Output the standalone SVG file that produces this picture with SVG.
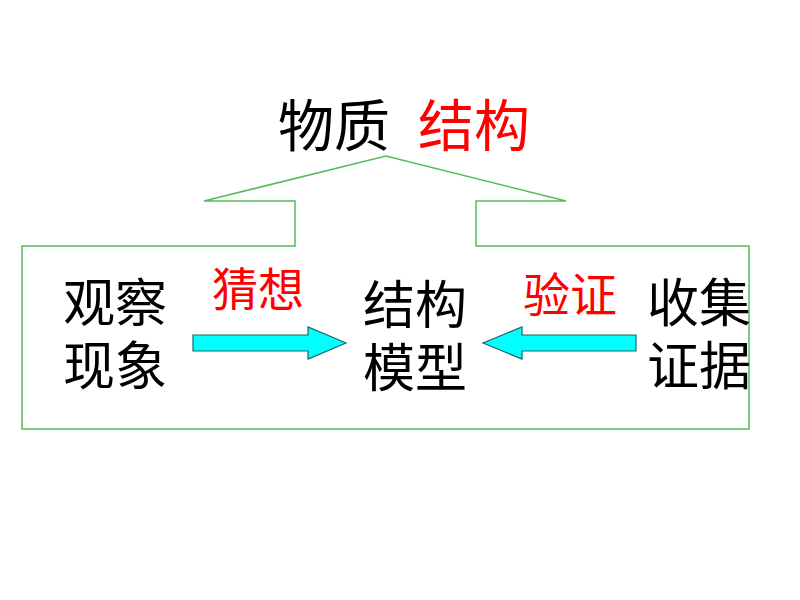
<svg xmlns="http://www.w3.org/2000/svg" width="800" height="600" viewBox="0 0 800 600">
<style>
.t{font-family:"Liberation Sans","Noto Sans CJK SC",sans-serif;}
.k{fill:#000;font-size:52px;}
.r{fill:#ff0000;}
.arr{fill:#00ffff;stroke:#1a6666;stroke-width:1.2;}
</style>
<rect width="800" height="600" fill="#fff"/>
<g id="frame">
<polygon points="22,246 295,246 295,201 204,201 386,156 566,201 476,201 476,246 749,246 749,429 22,429" fill="none" stroke="#55bb55" stroke-width="1.5"/>
</g>
<g id="title">
<text class="t" x="278" y="146" font-size="56" fill="#000">物质</text>
<text class="t r" x="418" y="146" font-size="56">结构</text>
</g>
<g id="observe">
<text class="t k"><tspan x="63" y="322">观察</tspan><tspan x="63" y="385">现象</tspan></text>
</g>
<g id="model">
<text class="t k"><tspan x="363" y="324">结构</tspan><tspan x="363" y="387">模型</tspan></text>
</g>
<g id="collect">
<text class="t k"><tspan x="647" y="322">收集</tspan><tspan x="647" y="385">证据</tspan></text>
</g>
<g id="connectors">
<polygon class="arr" points="193,335 308,335 308,327 346,343 308,359 308,351 193,351"/>
<polygon class="arr" points="636,335 522,335 522,327 483,343 522,359 522,351 636,351"/>
<text class="t r" x="212" y="306" font-size="46">猜想</text>
<text class="t r" x="523" y="312" font-size="47">验证</text>
</g>
</svg>
